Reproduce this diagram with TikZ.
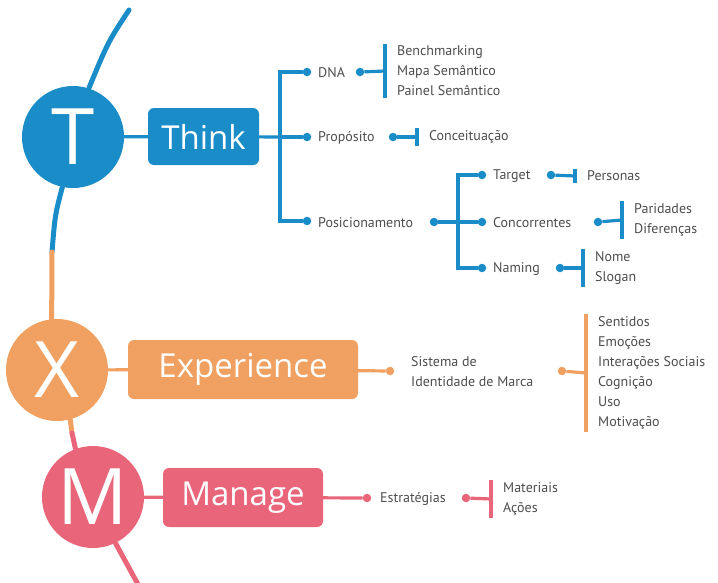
\documentclass[tikz,border=0pt]{standalone}
\usepackage{fontspec}
\setmainfont{Open Sans}
\newfontfamily\labelfont{PT Sans}
\definecolor{thinkblue}{HTML}{1A8CC8}
\definecolor{exporange}{HTML}{F0A060}
\definecolor{manpink}{HTML}{E8657A}
\definecolor{labelgray}{HTML}{4D4D4D}
\begin{document}
\begin{tikzpicture}[x=1pt,y=-1pt,
    every node/.style={font=\labelfont\fontsize{14}{20}\selectfont, text=labelgray},
    letter/.style={circle, fill=#1, text=white, minimum size=102pt, inner sep=0pt, font=\fontsize{78}{78}\selectfont},
    stage/.style={rounded corners=6pt, fill=#1, text=white, inner sep=0pt, font=\fontsize{33}{33}\selectfont},
    dot/.style={circle, fill=#1, inner sep=0pt, minimum size=8.5pt},
    leaf/.style={anchor=west, inner sep=0pt, align=left},
    sublist/.style={anchor=west, inner xsep=12pt, inner ysep=2pt, align=left},
    link/.style={draw=#1, line width=3.2pt},
    bar/.style={draw=#1, line width=4pt},
    spine/.style={draw=#1, line width=5pt, line cap=round}]
    \useasboundingbox (0,0) rectangle (718,582);

    % Stages
    \node[letter=thinkblue] (T) at (73,137) {T};
    \node[letter=exporange] (X) at (57,370) {X};
    \node[letter=manpink] (M) at (93,497) {M};
    \node[stage=thinkblue, minimum width=111pt, minimum height=57pt] (think) at (203.5,136.5) {Think};
    \node[stage=exporange, minimum width=230pt, minimum height=59pt] (experience) at (243,369.5) {Experience};
    \node[stage=manpink, minimum width=160pt, minimum height=59pt] (manage) at (243,497.5) {Manage};

    % Spine
    \coordinate (top) at (129,10);
    \coordinate (tx) at (52,252);
    \coordinate (xm) at (72,433);
    \coordinate (bottom) at (140,588);
    \draw[spine=thinkblue] (top) .. controls (108,42) .. (T.72);
    \draw[spine=thinkblue] (T.258) .. controls (55,215) .. (tx);
    \draw[spine=exporange] (tx) -- (X.96);
    \draw[spine=exporange] (X.285) -- (xm);
    \draw[spine=manpink] (xm) -- (M.110);
    \draw[spine=manpink] (M.296) -- (bottom);

    \draw[link=thinkblue] (T) -- (think);
    \draw[link=exporange] (X) -- (experience);
    \draw[link=manpink] (M) -- (manage);

    % Think
    \coordinate (thinkfork) at (280,137);
    \node[dot=thinkblue] (dnaIn) at (307,72) {};
    \node[dot=thinkblue] (propIn) at (307,137) {};
    \node[dot=thinkblue] (posIn) at (307,221) {};
    \draw[link=thinkblue] (think) -- (thinkfork);
    \draw[link=thinkblue] (dnaIn) -| (thinkfork) |- (posIn);
    \draw[link=thinkblue] (thinkfork) -- (propIn);
    \node[leaf] (dna) at (318,73) {DNA};
    \node[leaf] (prop) at (318,138) {Propósito};
    \node[leaf] (pos) at (318,223) {Posicionamento};

    % DNA
    \node[dot=thinkblue] (dnaOut) at (360,72) {};
    \node[sublist] (dnaList) at (385,71) {Benchmarking\\Mapa Semântico\\Painel Semântico};
    \draw[link=thinkblue] (dnaOut) -- (dnaList.west);
    \draw[bar=thinkblue] (dnaList.north west) -- (dnaList.south west);

    % Proposito
    \node[dot=thinkblue] (propOut) at (393,137) {};
    \node[sublist] (propList) at (417,137) {Conceituação};
    \draw[link=thinkblue] (propOut) -- (propList.west);
    \draw[bar=thinkblue] (propList.north west) -- (propList.south west);

    % Posicionamento
    \coordinate (posfork) at (458,222);
    \node[dot=thinkblue] (posOut) at (434,222) {};
    \node[dot=thinkblue] (tarIn) at (482,175) {};
    \node[dot=thinkblue] (concIn) at (482,222) {};
    \node[dot=thinkblue] (namIn) at (482,268) {};
    \draw[link=thinkblue] (posOut) -- (concIn);
    \draw[link=thinkblue] (tarIn) -| (posfork) |- (namIn);
    \node[leaf] (tar) at (493,176) {Target};
    \node[leaf] (conc) at (493,223) {Concorrentes};
    \node[leaf] (nam) at (493,269) {Naming};

    \node[dot=thinkblue] (tarOut) at (551,175) {};
    \node[sublist] (tarList) at (575,176) {Personas};
    \draw[link=thinkblue] (tarOut) -- (tarList.west);
    \draw[bar=thinkblue] (tarList.north west) -- (tarList.south west);

    \node[dot=thinkblue] (concOut) at (598,222) {};
    \node[sublist] (concList) at (622,220) {Paridades\\Diferenças};
    \draw[link=thinkblue] (concOut) -- (concList.west);
    \draw[bar=thinkblue] (concList.north west) -- (concList.south west);

    \node[dot=thinkblue] (namOut) at (560,268) {};
    \node[sublist] (namList) at (583,268) {Nome\\Slogan};
    \draw[link=thinkblue] (namOut) -- (namList.west);
    \draw[bar=thinkblue] (namList.north west) -- (namList.south west);

    % Experience
    \node[dot=exporange] (expOut) at (390,371) {};
    \draw[link=exporange] (experience) -- (expOut);
    \node[leaf] (sis) at (411,372) {Sistema de\\Identidade de Marca};
    \node[dot=exporange] (sisOut) at (562,371) {};
    \node[sublist] (sisList) at (586,373) {Sentidos\\Emoções\\Interações Sociais\\Cognição\\Uso\\Motivação};
    \draw[link=exporange] (sisOut) -- (sisList.west);
    \draw[bar=exporange] (sisList.north west) -- (sisList.south west);

    % Manage
    \node[dot=manpink] (manOut) at (367,498) {};
    \draw[link=manpink] (manage) -- (manOut);
    \node[leaf] (estr) at (380,499) {Estratégias};
    \node[dot=manpink] (estrOut) at (466,498) {};
    \node[sublist] (estrList) at (491,499) {Materiais\\Ações};
    \draw[link=manpink] (estrOut) -- (estrList.west);
    \draw[bar=manpink] (estrList.north west) -- (estrList.south west);

\end{tikzpicture}
\end{document}
